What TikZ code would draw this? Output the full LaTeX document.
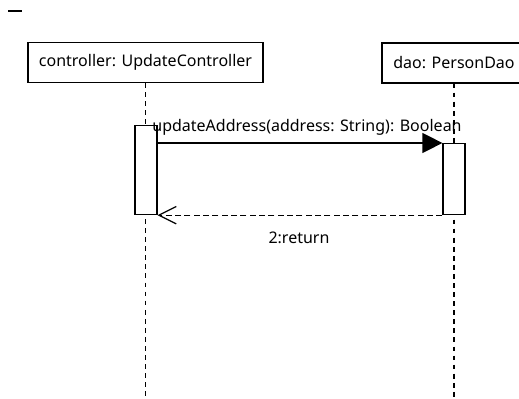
\documentclass[tikz,border=0pt]{standalone}
\usepackage{fontspec}
\setmainfont{Noto Sans}
\usetikzlibrary{arrows.meta}
\tikzset{
  objbox/.style={draw, line width=0.9pt, minimum width=176.25pt, minimum height=30pt, inner sep=0pt, font=\fontsize{12}{14}\selectfont},
  actbox/.style={draw, line width=0.9pt, fill=white, minimum width=16.5pt, inner sep=0pt, anchor=north},
  lifeline/.style={line width=0.9pt, dash pattern=on 3.6pt off 3.2pt},
  callmsg/.style={line width=0.9pt, -{Triangle[length=15pt, width=15pt]}},
  retmsg/.style={line width=0.9pt, dash pattern=on 4.5pt off 2.5pt, -{Straight Barb[length=13pt, width=13pt, line width=0.9pt]}},
  lbl/.style={font=\fontsize{12}{14}\selectfont, inner sep=0pt}
}
\begin{document}
\begin{tikzpicture}[x=0.75pt,y=-0.75pt]
\useasboundingbox (0,0) rectangle (519,399);
\draw[line width=0.9pt] (8,11) -- (22,11);
\node[objbox, minimum width=176.25pt] (ctrl) at (145.5,62.5) {controller: UpdateController};
\node[objbox, minimum width=108pt] (dao) at (454,63) {dao: PersonDao};
\coordinate (ctrlend) at (145.5,400);
\coordinate (daoend) at (454,400);
\draw[lifeline] (ctrl.south) -- (ctrlend);
\draw[lifeline] (dao.south) -- (daoend);
\node[actbox, minimum height=66.75pt] (act1) at (146,125) {};
\node[actbox, minimum height=53.25pt] (act2) at (454,143) {};
\draw[callmsg] (act1.east |- act2.north west) -- (act2.north west);
\draw[retmsg] (act2.south west) -- (act1.south east |- act2.south west);
\node[lbl] (m1) at (307,127) {updateAddress(address: String): Boolean};
\node[lbl] (m2) at (299,238) {2:return};
\end{tikzpicture}
\end{document}
